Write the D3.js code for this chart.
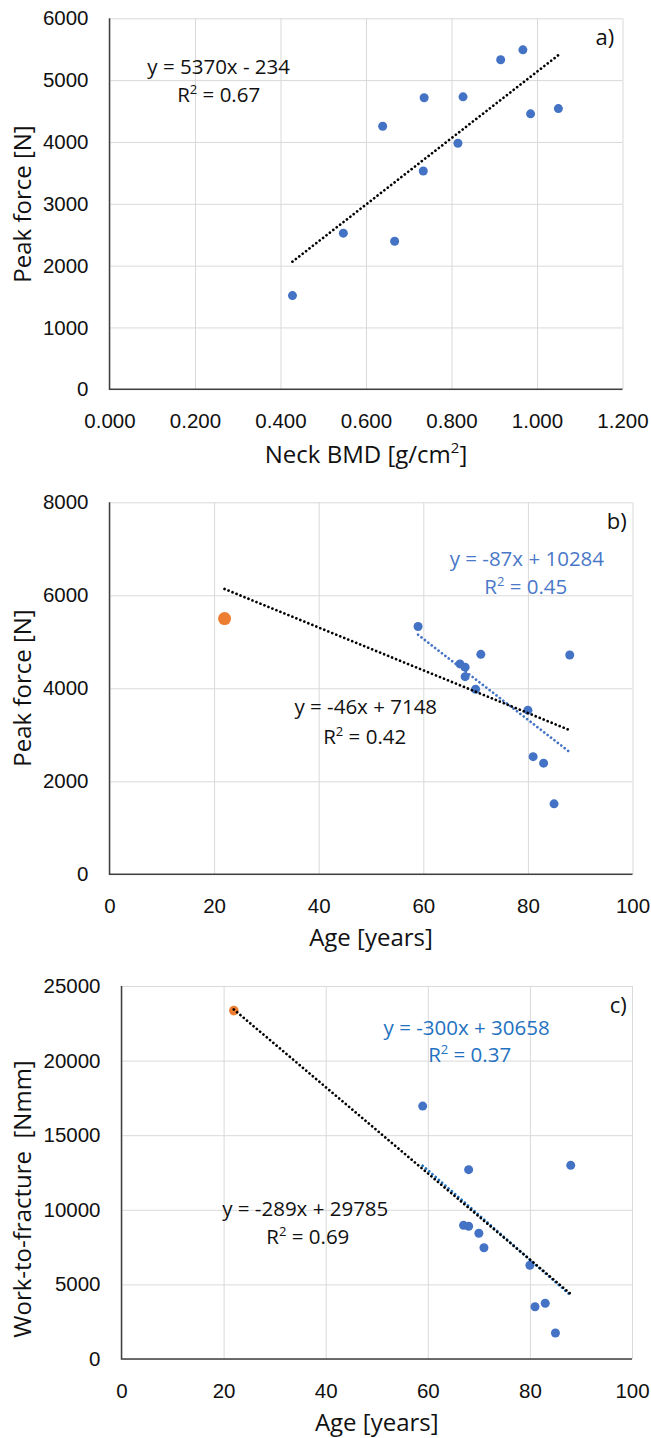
<!DOCTYPE html>
<html>
<head>
<meta charset="utf-8">
<script src="https://cdn.jsdelivr.net/npm/d3@7"></script>
<style>
  body { margin: 0; background: #fff; }
  svg { display: block; font-family: "Open Sans", "Noto Sans", sans-serif; }
  .grid line { stroke: #d9d9d9; stroke-width: 1; }
  .grid .domain { display: none; }
  .tick-labels .domain { display: none; }
  .tick-labels text { fill: #111; font-size: 20.5px; }
</style>
</head>
<body>
<div id="chart"></div>
<script>
// Panel a: neck BMD vs peak force (all 12 femurs)
const bmdA   = [0.428, 0.547, 0.639, 0.667, 0.736, 0.734, 0.815, 0.827, 0.915, 0.967, 0.985, 1.050];
const forceA = [1515, 2525, 4255, 2395, 4715, 3530, 3980, 4730, 5330, 5490, 4455, 4540];

// Panel b: age vs peak force (elderly donors in blue, young donor in orange)
const ageB   = [59, 67, 68, 68, 71, 88, 70, 80, 81, 83, 85];
const forceB = [5330, 4525, 4455, 4250, 4730, 4715, 3980, 3530, 2530, 2390, 1515];
const youngAgeB = [22];
const youngForceB = [5500];

// Panel c: age vs work-to-fracture
const ageC  = [59, 68, 88, 67, 68, 70, 71, 80, 81, 83, 85];
const workC = [16950, 12690, 12980, 8960, 8895, 8425, 7460, 6280, 3505, 3735, 1745];
const youngAgeC = [22];
const youngWorkC = [23350];

// tick values
const ticksBmd = [0, 0.2, 0.4, 0.6, 0.8, 1.0, 1.2];
const ticksForceA = [0, 1000, 2000, 3000, 4000, 5000, 6000];
const ticksAge = [0, 20, 40, 60, 80, 100];
const ticksForceB = [0, 2000, 4000, 6000, 8000];
const ticksWork = [0, 5000, 10000, 15000, 20000, 25000];

// trendline coefficients [slope, intercept] as printed on the chart
const fitA = [5370, -234];
const fitBall = [-46, 7148];
const fitBold = [-87, 10284];
const fitCall = [-289, 29785];
const fitCold = [-300, 30658];

const blue = "#4472c4";
const orange = "#ed7d31";

const svg = d3.select("#chart").append("svg")
    .attr("width", 651)
    .attr("height", 1438);

svg.append("rect").attr("width", 651).attr("height", 1438).attr("fill", "#fff");

function drawPanel(p) {
    const x = d3.scaleLinear().domain(p.xDomain).range([p.left, p.right]);
    const y = d3.scaleLinear().domain(p.yDomain).range([p.bottom, p.top]);
    const g = svg.append("g");

    // gridlines
    g.append("g").attr("class", "grid")
        .attr("transform", `translate(0,${p.bottom})`)
        .call(d3.axisBottom(x).tickValues(p.xTicks).tickSize(-(p.bottom - p.top)).tickFormat(""));
    g.append("g").attr("class", "grid")
        .attr("transform", `translate(${p.left},0)`)
        .call(d3.axisLeft(y).tickValues(p.yTicks).tickSize(-(p.right - p.left)).tickFormat(""));

    // tick labels
    g.append("g").attr("class", "tick-labels")
        .attr("transform", `translate(0,${p.bottom})`)
        .call(d3.axisBottom(x).tickValues(p.xTicks).tickSize(0).tickPadding(24).tickFormat(p.xFormat));
    g.append("g").attr("class", "tick-labels")
        .attr("transform", `translate(${p.left},0)`)
        .call(d3.axisLeft(y).tickValues(p.yTicks).tickSize(0).tickPadding(21).tickFormat(d3.format("d")));

    // axis lines (left and bottom)
    g.append("path")
        .attr("d", `M${p.left},${p.top}V${p.bottom}H${p.right}`)
        .attr("fill", "none")
        .attr("stroke", "#404040")
        .attr("stroke-width", 1.5);

    // points
    p.series.forEach(s => {
        g.append("g").selectAll("circle")
            .data(d3.zip(s.xs, s.ys))
            .enter().append("circle")
            .attr("cx", d => x(d[0]))
            .attr("cy", d => y(d[1]))
            .attr("r", s.r)
            .attr("fill", s.color);
    });

    // dotted trendlines drawn over the markers
    p.fits.forEach(f => {
        const x0 = d3.min(f.xs), x1 = d3.max(f.xs);
        g.append("line")
            .attr("x1", x(x0)).attr("y1", y(f.coef[0] * x0 + f.coef[1]))
            .attr("x2", x(x1)).attr("y2", y(f.coef[0] * x1 + f.coef[1]))
            .attr("stroke", f.color)
            .attr("stroke-width", 2.7)
            .attr("stroke-linecap", "round")
            .attr("stroke-dasharray", "0.01 4.3");
    });

    // equation labels
    p.notes.forEach(n => {
        g.append("text")
            .attr("x", x(n.at[0])).attr("y", y(n.at[1]))
            .attr("dy", "0.35em")
            .attr("text-anchor", "middle")
            .attr("font-size", n.size || 20.5)
            .attr("fill", n.color || "#111")
            .html(n.text);
    });

    // axis titles
    g.append("text")
        .attr("x", (p.left + p.right) / 2).attr("y", p.xTitleY)
        .attr("dy", "0.35em")
        .attr("text-anchor", "middle")
        .attr("font-size", 24)
        .attr("fill", "#111")
        .html(p.xTitle);
    g.append("text")
        .attr("transform", `translate(23,${p.yTitleY}) rotate(-90)`)
        .attr("dy", "0.35em")
        .attr("text-anchor", "middle")
        .attr("font-size", 24)
        .attr("fill", "#111")
        .style("white-space", "pre")
        .text(p.yTitle);
}

const R2 = 'R<tspan font-size="13" dy="-8">2</tspan><tspan dy="8"> = </tspan>';

drawPanel({
    left: 109.5, right: 622.5, top: 18.3, bottom: 389.3,
    xDomain: [0, 1.2], yDomain: [0, 6000],
    xTicks: ticksBmd, yTicks: ticksForceA, xFormat: d3.format(".3f"),
    xTitle: 'Neck BMD [g/cm<tspan font-size="15" dy="-10">2</tspan><tspan dy="10">]</tspan>',
    xTitleY: 455, yTitle: "Peak force [N]", yTitleY: 204,
    series: [{ xs: bmdA, ys: forceA, color: blue, r: 4.5 }],
    fits: [{ xs: bmdA, coef: fitA, color: "#000" }],
    notes: [
        { at: [0.2554, 5217], text: "y = 5370x - 234" },
        { at: [0.2554, 4760], text: R2 + "0.67" },
        { at: [1.159, 5698], text: "a)", size: 22 }
    ]
});

drawPanel({
    left: 109.5, right: 632.5, top: 502.3, bottom: 874.3,
    xDomain: [0, 100], yDomain: [0, 8000],
    xTicks: ticksAge, yTicks: ticksForceB, xFormat: d3.format("d"),
    xTitle: "Age [years]", xTitleY: 938, yTitle: "Peak force [N]", yTitleY: 688,
    series: [
        { xs: ageB, ys: forceB, color: blue, r: 4.5 },
        { xs: youngAgeB, ys: youngForceB, color: orange, r: 6.5 }
    ],
    fits: [
        { xs: ageB, coef: fitBold, color: blue },
        { xs: ageB.concat(youngAgeB), coef: fitBall, color: "#000" }
    ],
    notes: [
        { at: [79.8, 6774], text: "y = -87x + 10284", color: "#4a78c8" },
        { at: [79.6, 6178], text: R2 + "0.45", color: "#4a78c8" },
        { at: [49.0, 3591], text: "y = -46x + 7148" },
        { at: [48.8, 2959], text: R2 + "0.42" },
        { at: [97.0, 7583], text: "b)", size: 22 }
    ]
});

drawPanel({
    left: 121.5, right: 632, top: 986, bottom: 1359,
    xDomain: [0, 100], yDomain: [0, 25000],
    xTicks: ticksAge, yTicks: ticksWork, xFormat: d3.format("d"),
    xTitle: "Age [years]", xTitleY: 1423, yTitle: "Work-to-fracture  [Nmm]", yTitleY: 1199,
    series: [
        { xs: ageC, ys: workC, color: blue, r: 4.5 },
        { xs: youngAgeC, ys: youngWorkC, color: orange, r: 4.8 }
    ],
    fits: [
        { xs: ageC, coef: fitCold, color: "#1f72c0" },
        { xs: ageC.concat(youngAgeC), coef: fitCall, color: "#000" }
    ],
    notes: [
        { at: [67.6, 22218], text: "y = -300x + 30658", color: "#1f72c0" },
        { at: [68.2, 20374], text: R2 + "0.37", color: "#1f72c0" },
        { at: [36.0, 10033], text: "y = -289x + 29785" },
        { at: [36.5, 8157], text: R2 + "0.69" },
        { at: [97.3, 23725], text: "c)", size: 22 }
    ]
});
</script>
</body>
</html>
